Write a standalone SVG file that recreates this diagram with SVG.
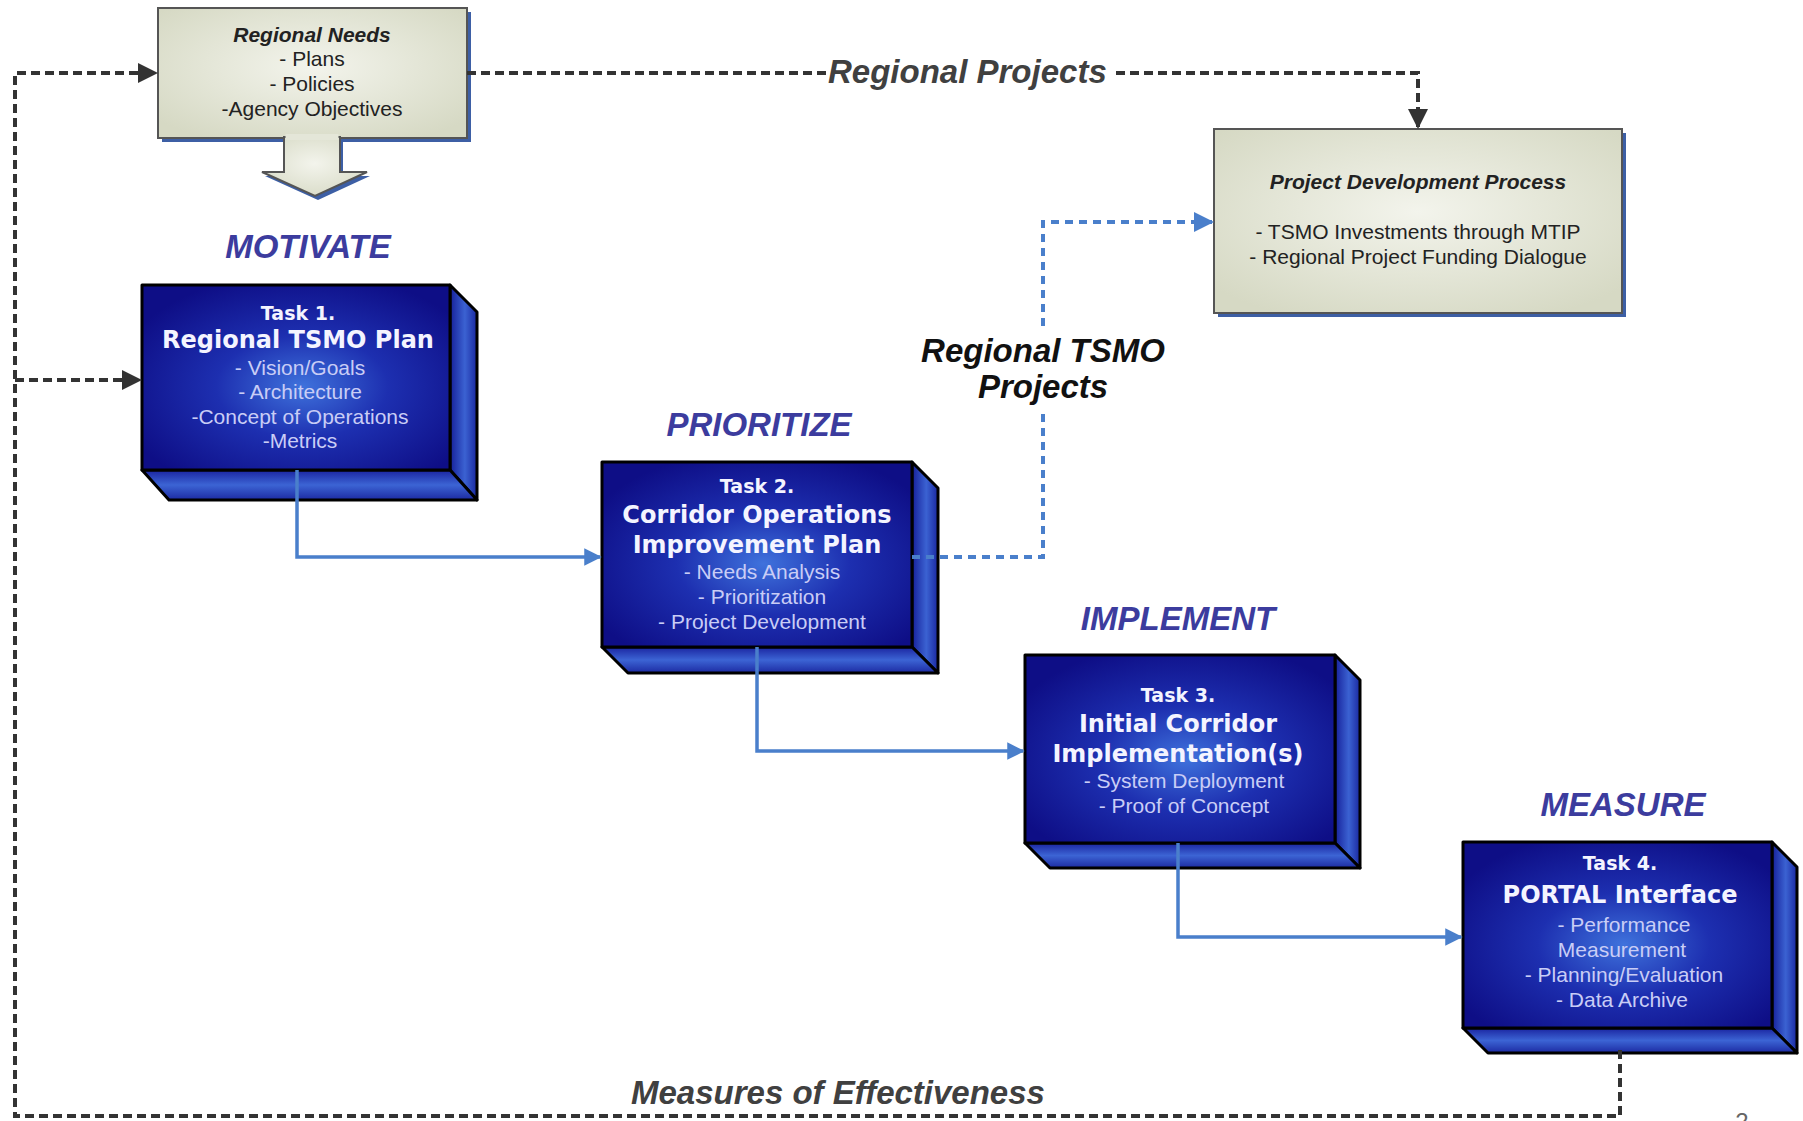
<svg xmlns="http://www.w3.org/2000/svg" width="1803" height="1121" viewBox="0 0 1803 1121">
<defs>
<radialGradient id="beige" cx="50%" cy="45%" r="65%">
<stop offset="0" stop-color="#f3f4ec"/>
<stop offset="1" stop-color="#d6d9c4"/>
</radialGradient>
<radialGradient id="front" cx="52%" cy="55%" r="62%">
<stop offset="0" stop-color="#3f72dc"/>
<stop offset="0.45" stop-color="#1d2fb0"/>
<stop offset="1" stop-color="#0e0e86"/>
</radialGradient>
<linearGradient id="side" x1="0" y1="0" x2="1" y2="0">
<stop offset="0" stop-color="#16209a"/>
<stop offset="0.55" stop-color="#3b62d2"/>
<stop offset="1" stop-color="#1a28a0"/>
</linearGradient>
<linearGradient id="bottom" x1="0" y1="0" x2="0" y2="1">
<stop offset="0" stop-color="#1a24a0"/>
<stop offset="0.5" stop-color="#3c64d4"/>
<stop offset="1" stop-color="#1c2aa2"/>
</linearGradient>
<marker id="ab" viewBox="0 0 10 10" refX="9" refY="5" markerWidth="5" markerHeight="5" orient="auto" markerUnits="strokeWidth">
<path d="M0,0 L10,5 L0,10 Z" fill="#4a7fcb"/>
</marker>
<marker id="ak" viewBox="0 0 10 10" refX="9" refY="5" markerWidth="5" markerHeight="5" orient="auto" markerUnits="strokeWidth">
<path d="M0,0 L10,5 L0,10 Z" fill="#333"/>
</marker>
<style>
.bx{fill:url(#beige);stroke:#555;stroke-width:2}
.sh{fill:#3d5fa5}
.f{fill:url(#front);stroke:#000;stroke-width:3;stroke-linejoin:round}
.s{fill:url(#side);stroke:#000;stroke-width:3;stroke-linejoin:round}
.b{fill:url(#bottom);stroke:#000;stroke-width:3;stroke-linejoin:round}
.t{font-family:"DejaVu Sans",sans-serif;font-weight:bold;fill:#f4f4ff;text-anchor:middle}
.tk{font-size:19px}
.ti{font-size:24px}
.it{font-family:"Liberation Sans",Arial,sans-serif;font-size:21px;fill:#c9cdf6;text-anchor:middle}
.bt{font-family:"Liberation Sans",Arial,sans-serif;font-size:21px;fill:#222;text-anchor:middle}
.bh{font-weight:bold;font-style:italic}
.hd{font-family:"Liberation Sans",Arial,sans-serif;font-size:33px;font-weight:bold;font-style:italic;fill:#3c3c9e;text-anchor:middle}
.lb{font-family:"Liberation Sans",Arial,sans-serif;font-size:33px;font-weight:bold;font-style:italic}
.cb{fill:none;stroke:#4a7fcb;stroke-width:3.5}
.cbd{fill:none;stroke:#4a7fcb;stroke-width:4;stroke-dasharray:8 6}
.ck{fill:none;stroke:#333;stroke-width:4;stroke-dasharray:9 5}
</style>
</defs>
<rect width="1803" height="1121" fill="#fff"/>

<g id="regional-needs">
<rect class="sh" x="162" y="12" width="309" height="130"/>
<polygon class="sh" points="287,141 343,141 343,176 370,176 318,200 265,176 287,176"/>
<rect class="bx" x="158" y="8" width="309" height="130"/>
<polygon class="bx" points="284,137 340,137 340,172 367,172 315,196 262,172 284,172"/>
<rect x="285.5" y="134" width="53" height="6" fill="#e4e6d8"/>
<text class="bt bh" x="312" y="42">Regional Needs</text>
<text class="bt" x="312" y="66">- Plans</text>
<text class="bt" x="312" y="91">- Policies</text>
<text class="bt" x="312" y="116">-Agency Objectives</text>
</g>

<g id="project-development">
<rect class="sh" x="1218" y="133" width="408" height="184"/>
<rect class="bx" x="1214" y="129" width="408" height="184"/>
<text class="bt bh" x="1418" y="189">Project Development Process</text>
<text class="bt" x="1418" y="239">- TSMO Investments through MTIP</text>
<text class="bt" x="1418" y="264">- Regional Project Funding Dialogue</text>
</g>

<g id="heading-motivate"><text class="hd" x="308" y="258">MOTIVATE</text></g>
<g id="heading-prioritize"><text class="hd" x="759" y="436">PRIORITIZE</text></g>
<g id="heading-implement"><text class="hd" x="1178" y="630">IMPLEMENT</text></g>
<g id="heading-measure"><text class="hd" x="1623" y="816">MEASURE</text></g>

<g id="task1">
<polygon class="s" points="450,285 477,312 477,500 450,470"/>
<polygon class="b" points="142,470 450,470 477,500 169,500"/>
<rect class="f" x="142" y="285" width="308" height="185"/>
<text class="t tk" x="298" y="320">Task 1.</text>
<text class="t ti" x="298" y="348">Regional TSMO Plan</text>
<text class="it" x="300" y="375">- Vision/Goals</text>
<text class="it" x="300" y="399">- Architecture</text>
<text class="it" x="300" y="424">-Concept of Operations</text>
<text class="it" x="300" y="448">-Metrics</text>
</g>

<g id="task2">
<polygon class="s" points="912,462 938,488 938,673 912,647"/>
<polygon class="b" points="602,647 912,647 938,673 628,673"/>
<rect class="f" x="602" y="462" width="310" height="185"/>
<text class="t tk" x="757" y="493">Task 2.</text>
<text class="t ti" x="757" y="523">Corridor Operations</text>
<text class="t ti" x="757" y="553">Improvement Plan</text>
<text class="it" x="762" y="579">- Needs Analysis</text>
<text class="it" x="762" y="604">- Prioritization</text>
<text class="it" x="762" y="629">- Project Development</text>
</g>

<g id="task3">
<polygon class="s" points="1335,655 1360,680 1360,868 1335,843"/>
<polygon class="b" points="1025,843 1335,843 1360,868 1050,868"/>
<rect class="f" x="1025" y="655" width="310" height="188"/>
<text class="t tk" x="1178" y="702">Task 3.</text>
<text class="t ti" x="1178" y="732">Initial Corridor</text>
<text class="t ti" x="1178" y="762">Implementation(s)</text>
<text class="it" x="1184" y="788">- System Deployment</text>
<text class="it" x="1184" y="813">- Proof of Concept</text>
</g>

<g id="task4">
<polygon class="s" points="1772,842 1797,867 1797,1053 1772,1028"/>
<polygon class="b" points="1463,1028 1772,1028 1797,1053 1488,1053"/>
<rect class="f" x="1463" y="842" width="309" height="186"/>
<text class="t tk" x="1620" y="870">Task 4.</text>
<text class="t ti" x="1620" y="903">PORTAL Interface</text>
<text class="it" x="1624" y="932">- Performance</text>
<text class="it" x="1622" y="957">Measurement</text>
<text class="it" x="1624" y="982">- Planning/Evaluation</text>
<text class="it" x="1622" y="1007">- Data Archive</text>
</g>

<g id="connectors">
<path class="cb" d="M297,470 V557 H600" marker-end="url(#ab)"/>
<path class="cb" d="M757,647 V751 H1023" marker-end="url(#ab)"/>
<path class="cb" d="M1178,843 V937 H1461" marker-end="url(#ab)"/>
<path class="cbd" d="M912,557 H1043 V412"/>
<path class="cbd" d="M1043,326 V222 H1212" marker-end="url(#ab)"/>
<path class="ck" d="M467,73 H826"/>
<path class="ck" d="M1116,73 H1418 V127" marker-end="url(#ak)"/>
<path class="ck" d="M1620,1050 V1116 H15 V73 H156" marker-end="url(#ak)"/>
<path class="ck" d="M15,380 H140" marker-end="url(#ak)"/>
<text class="lb" x="828" y="83" fill="#404040">Regional Projects</text>
<text class="lb" x="1043" y="362" fill="#111" text-anchor="middle" font-size="31">Regional TSMO</text>
<text class="lb" x="1043" y="398" fill="#111" text-anchor="middle" font-size="31">Projects</text>
<text class="lb" x="631" y="1104" fill="#404040" font-size="34">Measures of Effectiveness</text>
</g>
<text x="1742" y="1130" font-family="Liberation Sans, Arial, sans-serif" font-size="24" fill="#666" text-anchor="middle">2</text>
</svg>
